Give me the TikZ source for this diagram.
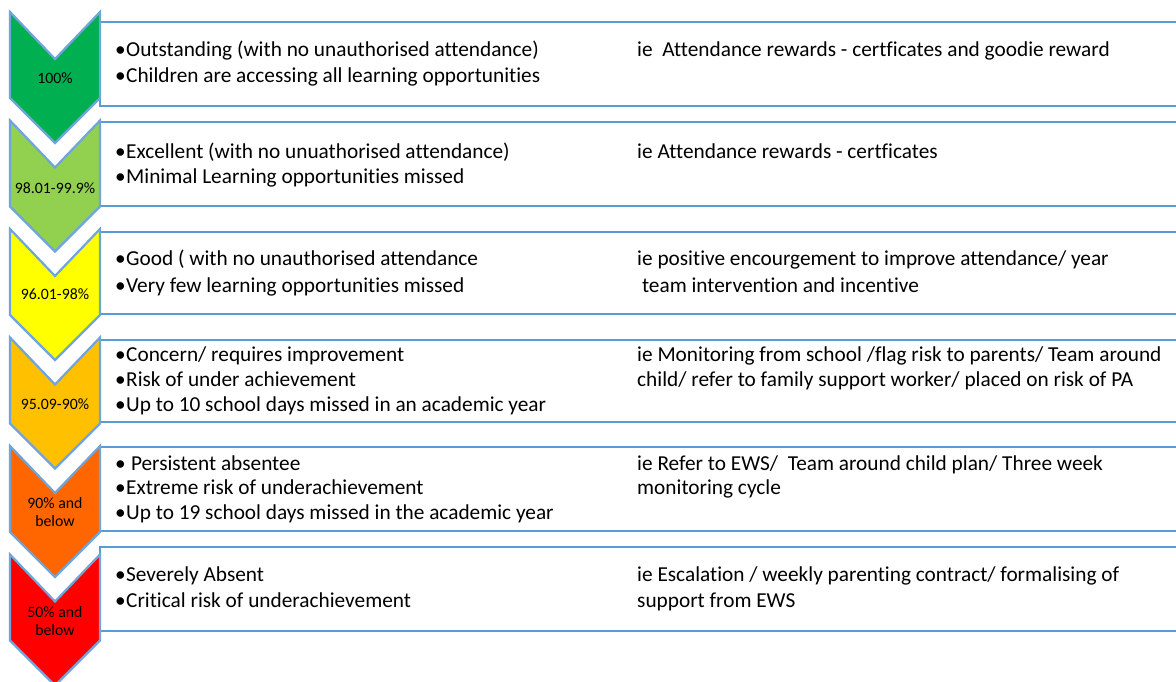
\documentclass[tikz,border=0pt]{standalone}
\usepackage{fontspec}
\setmainfont{Carlito}[Ligatures=NoCommon]
\definecolor{bord}{HTML}{5B9BD5}
\definecolor{chevb}{HTML}{6FA5DA}
\definecolor{c1}{HTML}{00B050}
\definecolor{c2}{HTML}{92D050}
\definecolor{c3}{HTML}{FFFF00}
\definecolor{c4}{HTML}{FFC000}
\definecolor{c5}{HTML}{FF6600}
\definecolor{c6}{HTML}{FF0000}
\newcommand{\bul}{\makebox[11pt][l]{•}}
\begin{document}
\begin{tikzpicture}[x=1pt,y=-1pt,
  box/.style={draw=bord, line width=2pt, fill=white},
  chev/.style={draw=chevb, line width=2.2pt, line join=miter},
  txt/.style={anchor=base west, inner sep=0pt, font=\fontsize{21.3}{25}\selectfont},
  lab/.style={align=center, inner sep=0pt, font=\fontsize{15.8}{18.5}\selectfont}]
\useasboundingbox (0,0) rectangle (1176,682);
\fill[white] (0,0) rectangle (1176,682);
% boxes
\foreach \t/\b in {22/106,122/206,232/314,340/422,447/531,547/631}{
  \draw[box] (100,\t) rectangle (1185,\b);
}
% chevrons
\foreach \y/\c in {12/c1,120.5/c2,229/c3,337.5/c4,446/c5,554.5/c6}{
  \draw[chev, fill=\c] (10,\y) -- (55,\y+47) -- (100,\y) -- (100,\y+86) -- (55,\y+131) -- (10,\y+86) -- cycle;
}
% labels
\node[lab] (l1) at (55,78) {100\%};
\node[lab] (l2) at (55,188) {98.01-99.9\%};
\node[lab] (l3) at (55,294) {96.01-98\%};
\node[lab] (l4) at (55,404) {95.09-90\%};
\node[lab] (l5) at (55,512) {90\% and\\below};
\node[lab] (l6) at (55,621) {50\% and\\below};
% row 1
\node[txt] (a1) at (115,57) {\bul Outstanding (with no unauthorised attendance)};
\node[txt] (a2) at (115,83) {\bul Children are accessing all learning opportunities};
\node[txt] (r1) at (637,57) {ie\ \ Attendance rewards - certficates and goodie reward};
% row 2
\node[txt] (b1) at (115,159) {\bul Excellent (with no unuathorised attendance)};
\node[txt] (b2) at (115,184) {\bul Minimal Learning opportunities missed};
\node[txt] (r2) at (637,159) {ie Attendance rewards - certficates};
% row 3
\node[txt] (c1n) at (115,265) {\bul Good ( with no unauthorised attendance};
\node[txt] (c2n) at (115,292) {\bul Very few learning opportunities missed};
\node[txt] (r3a) at (637,265) {ie positive encourgement to improve attendance/ year};
\node[txt] (r3b) at (637,292) {\ team intervention and incentive};
% row 4
\node[txt] (d1) at (115,361) {\bul Concern/ requires improvement};
\node[txt] (d2) at (115,386) {\bul Risk of under achievement};
\node[txt] (d3) at (115,411) {\bul Up to 10 school days missed in an academic year};
\node[txt] (r4a) at (637,361) {ie Monitoring from school /flag risk to parents/ Team around};
\node[txt] (r4b) at (637,386) {child/ refer to family support worker/ placed on risk of PA};
% row 5
\node[txt] (e1) at (115,470) {\bul\ Persistent absentee};
\node[txt] (e2) at (115,494) {\bul Extreme risk of underachievement};
\node[txt] (e3) at (115,519) {\bul Up to 19 school days missed in the academic year};
\node[txt] (r5a) at (637,470) {ie Refer to EWS/\ \ Team around child plan/ Three week};
\node[txt] (r5b) at (637,494) {monitoring cycle};
% row 6
\node[txt] (f1) at (115,581) {\bul Severely Absent};
\node[txt] (f2) at (115,607) {\bul Critical risk of underachievement};
\node[txt] (r6a) at (637,581) {ie Escalation / weekly parenting contract/ formalising of};
\node[txt] (r6b) at (637,607) {support from EWS};
\end{tikzpicture}
\end{document}
